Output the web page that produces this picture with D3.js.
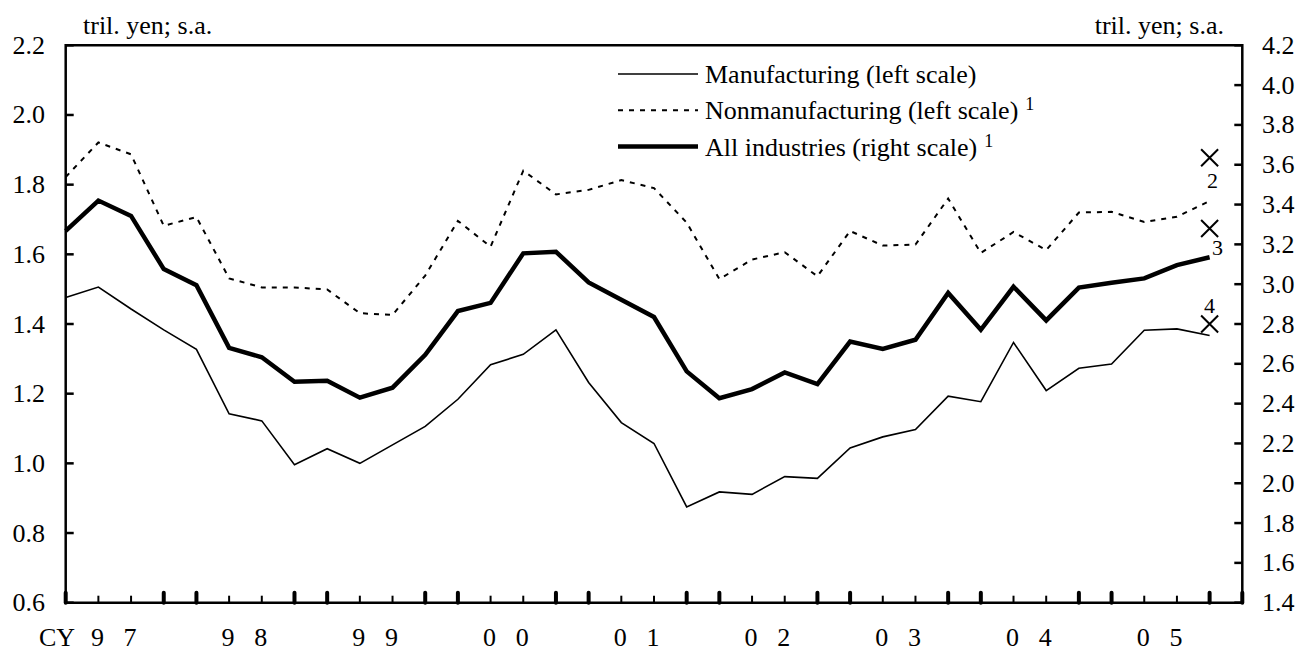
<!DOCTYPE html>
<html>
<head>
<meta charset="utf-8">
<script src="https://cdn.jsdelivr.net/npm/d3@7"></script>
<style>
  body { margin: 0; background: #fff; }
</style>
</head>
<body>
<div id="chart"></div>
<script>
// quarters 1997Q1 .. 2005Q4
const years = ["97", "98", "99", "00", "01", "02", "03", "04", "05"]

const manufacturing = [
  1.476, 1.506, 1.443, 1.383, 1.327, 1.142, 1.122, 0.996, 1.042, 1.0,
  1.053, 1.106, 1.184, 1.283, 1.313, 1.383, 1.232, 1.117, 1.057, 0.875,
  0.918, 0.911, 0.962, 0.957, 1.044, 1.076, 1.097, 1.193, 1.177, 1.347,
  1.209, 1.273, 1.285, 1.382, 1.386, 1.367
]
const nonmanufacturing = [
  1.822, 1.921, 1.887, 1.682, 1.707, 1.531, 1.505, 1.505, 1.499, 1.431,
  1.426, 1.539, 1.696, 1.622, 1.84, 1.772, 1.785, 1.813, 1.79, 1.691,
  1.529, 1.585, 1.606, 1.537, 1.667, 1.625, 1.628, 1.76, 1.604, 1.664,
  1.612, 1.72, 1.722, 1.693, 1.708, 1.753
]
const allIndustries = [
  3.268, 3.42, 3.343, 3.076, 2.995, 2.68, 2.633, 2.51, 2.515, 2.43,
  2.48, 2.645, 2.865, 2.906, 3.155, 3.163, 3.009, 2.922, 2.835, 2.562,
  2.427, 2.473, 2.557, 2.498, 2.712, 2.675, 2.721, 2.956, 2.771, 2.987,
  2.818, 2.983, 3.007, 3.029, 3.096, 3.135
]
// forecasts plotted as crosses at the last quarter
const forecasts = [
  { label: "2", value: 1.877, scale: "left" },
  { label: "3", value: 3.28, scale: "right" },
  { label: "4", value: 1.40, scale: "left" }
]
const leftTicks = [0.6, 0.8, 1.0, 1.2, 1.4, 1.6, 1.8, 2.0, 2.2]
const rightTicks = [1.4, 1.6, 1.8, 2.0, 2.2, 2.4, 2.6, 2.8, 3.0, 3.2, 3.4, 3.6, 3.8, 4.0, 4.2]

const width = 1298, height = 653
const plot = { left: 65.7, right: 1242.3, top: 45.3, bottom: 602.7 }
const fontSize = "26px"
const serif = "'Liberation Serif', 'DejaVu Serif', 'Times New Roman', Times, serif"

const svg = d3.select("#chart").append("svg")
  .attr("width", width)
  .attr("height", height)
  .attr("font-family", serif)
  .style("font-family", serif)

const x = d3.scaleLinear().domain([0, 36]).range([plot.left, plot.right])
const yL = d3.scaleLinear().domain([0.6, 2.2]).range([plot.bottom, plot.top])
const yR = d3.scaleLinear().domain([1.4, 4.2]).range([plot.bottom, plot.top])

// frame
svg.append("path")
  .attr("d", `M${plot.left},${plot.bottom}V${plot.top}H${plot.right}V${plot.bottom}Z`)
  .attr("fill", "none")
  .attr("stroke", "#000")
  .attr("stroke-width", 2.5)

// left axis
let gL = svg.append("g")
gL.selectAll("line").data(leftTicks).join("line")
  .attr("x1", plot.left).attr("x2", plot.left + 8)
  .attr("y1", d => yL(d)).attr("y2", d => yL(d))
  .attr("stroke", "#000").attr("stroke-width", 2.5)
gL.selectAll("text").data(leftTicks).join("text")
  .attr("x", 45).attr("y", d => yL(d) + 8.5)
  .attr("text-anchor", "end")
  .style("font-size", fontSize)
  .text(d => d.toFixed(1))

// right axis
let gR = svg.append("g")
gR.selectAll("line").data(rightTicks).join("line")
  .attr("x1", plot.right - 8).attr("x2", plot.right)
  .attr("y1", d => yR(d)).attr("y2", d => yR(d))
  .attr("stroke", "#000").attr("stroke-width", 2.5)
gR.selectAll("text").data(rightTicks).join("text")
  .attr("x", 1262).attr("y", d => yR(d) + 8.5)
  .style("font-size", fontSize)
  .text(d => d.toFixed(1))

// unit labels
svg.append("text").attr("x", 83).attr("y", 34)
  .style("font-size", fontSize).text("tril. yen; s.a.")
svg.append("text").attr("x", 1224).attr("y", 34)
  .attr("text-anchor", "end")
  .style("font-size", fontSize).text("tril. yen; s.a.")

// quarter ticks
let gX = svg.append("g")
const major = d => d % 4 === 0 || d % 4 === 3
gX.selectAll("line").data(d3.range(37)).join("line")
  .attr("x1", d => x(d)).attr("x2", d => x(d))
  .attr("y1", plot.bottom)
  .attr("y2", d => major(d) ? plot.bottom - 10 : plot.bottom - 7)
  .attr("stroke", "#000")
  .attr("stroke-width", d => major(d) ? 4 : 2)
  .attr("stroke-linecap", d => major(d) ? "round" : "butt")

// year labels, one digit per tick
let digits = []
years.forEach((yr, k) => {
  digits.push({ ch: yr[0], pos: 4 * k + 1 })
  digits.push({ ch: yr[1], pos: 4 * k + 2 })
})
gX.selectAll("text.digit").data(digits).join("text")
  .attr("class", "digit")
  .attr("x", d => x(d.pos) - 1).attr("y", 646)
  .attr("text-anchor", "middle")
  .style("font-size", fontSize)
  .text(d => d.ch)
svg.append("text").attr("x", 75).attr("y", 646)
  .attr("text-anchor", "end")
  .style("font-size", fontSize).text("CY")

// series
const lineL = d3.line().x((d, i) => x(i)).y(d => yL(d))
const lineR = d3.line().x((d, i) => x(i)).y(d => yR(d))

svg.append("path").datum(manufacturing)
  .attr("d", lineL)
  .attr("fill", "none").attr("stroke", "#000").attr("stroke-width", 1.6)

svg.append("path").datum(nonmanufacturing)
  .attr("d", lineL)
  .attr("fill", "none").attr("stroke", "#000").attr("stroke-width", 2)
  .attr("stroke-dasharray", "5,6")

svg.append("path").datum(allIndustries)
  .attr("d", lineR)
  .attr("fill", "none").attr("stroke", "#000").attr("stroke-width", 4.5)

// forecast crosses
let gF = svg.append("g")
const labelOffsets = { "2": [3, 30], "3": [8, 27], "4": [0, -11] }
forecasts.forEach(f => {
  let cx = x(35)
  let cy = f.scale === "left" ? yL(f.value) : yR(f.value)
  let s = 8.5
  gF.append("path")
    .attr("d", `M${cx - s},${cy - s}L${cx + s},${cy + s}M${cx - s},${cy + s}L${cx + s},${cy - s}`)
    .attr("stroke", "#000").attr("stroke-width", 2)
  let off = labelOffsets[f.label]
  gF.append("text")
    .attr("x", cx + off[0]).attr("y", cy + off[1])
    .attr("text-anchor", "middle")
    .style("font-size", "22px")
    .text(f.label)
})

// legend
const legendItems = [
  { name: "Manufacturing (left scale)", width: 1.6, dash: null, sup: false },
  { name: "Nonmanufacturing (left scale)", width: 2, dash: "5,6", sup: true },
  { name: "All industries (right scale)", width: 4.5, dash: null, sup: true }
]
let gLeg = svg.append("g")
legendItems.forEach((d, i) => {
  let ly = 74 + i * 36.3
  gLeg.append("line")
    .attr("x1", 618).attr("x2", 698)
    .attr("y1", ly).attr("y2", ly)
    .attr("stroke", "#000").attr("stroke-width", d.width)
    .attr("stroke-dasharray", d.dash)
  let t = gLeg.append("text")
    .attr("x", 705).attr("y", ly + 9)
    .style("font-size", fontSize)
    .text(d.name)
  if (d.sup) {
    let w = t.node().getComputedTextLength()
    gLeg.append("text")
      .attr("x", 705 + w + 7).attr("y", ly)
      .style("font-size", "18px")
      .text("1")
  }
})
</script>
</body>
</html>
